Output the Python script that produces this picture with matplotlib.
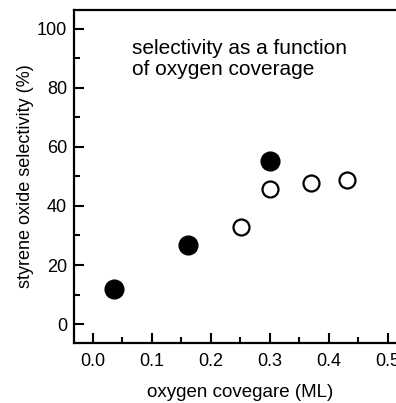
import matplotlib
matplotlib.use("Agg")
import matplotlib.pyplot as plt
from matplotlib.ticker import MultipleLocator

plt.rcParams['font.family'] = ['Liberation Sans', 'DejaVu Sans']

# filled circles
cov_filled = [0.035, 0.161, 0.300]
sel_filled = [12.0, 26.7, 55.1]

# open circles
cov_open = [0.251, 0.300, 0.370, 0.431]
sel_open = [33.0, 45.8, 47.8, 48.8]

fig = plt.figure(figsize=(3.96, 4.03), dpi=100)
ax = fig.add_axes([0.187, 0.1496, 1.024 - 0.187, 0.826])

ax.plot(cov_filled, sel_filled, 'o', color='black', ms=13.5, clip_on=False)
ax.plot(cov_open, sel_open, 'o', mfc='white', mec='black', mew=1.6, ms=11.5, clip_on=False)

ax.set_xlim(-0.032, 0.53)
ax.set_ylim(-6.3, 106.4)

ax.xaxis.set_major_locator(MultipleLocator(0.1))
ax.xaxis.set_minor_locator(MultipleLocator(0.05))
ax.yaxis.set_major_locator(MultipleLocator(20))
ax.yaxis.set_minor_locator(MultipleLocator(10))
ax.set_xticks([0.0, 0.1, 0.2, 0.3, 0.4, 0.5])
ax.set_xticklabels(["0.0", "0.1", "0.2", "0.3", "0.4", "0.5"])

ax.tick_params(which='both', direction='in', width=1.5, labelsize=13, top=False, right=False)
ax.tick_params(which='major', length=7.5, pad=5)
ax.tick_params(axis='x', which='major', pad=7.5)
ax.tick_params(which='minor', length=4)

for s in ax.spines.values():
    s.set_linewidth(1.6)

ax.set_xlabel("oxygen covegare (ML)", fontsize=13.5, labelpad=10)
ax.set_ylabel("styrene oxide selectivity (%)", fontsize=13, labelpad=2)

ax.text(0.066, 96.5, "selectivity as a function\nof oxygen coverage", fontsize=15,
        va='top', ha='left', linespacing=1.1)

fig.savefig("out.png", dpi=100)
